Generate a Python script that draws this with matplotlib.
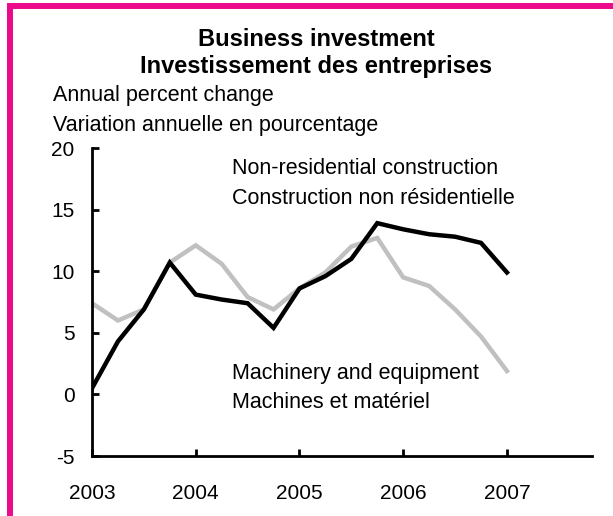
import numpy as np
import matplotlib
matplotlib.use('Agg')
import matplotlib.pyplot as plt
from matplotlib.lines import Line2D

# quarterly observations, 2003Q1 .. 2007Q1
QUARTERS = [2003.0, 2003.25, 2003.5, 2003.75,
            2004.0, 2004.25, 2004.5, 2004.75,
            2005.0, 2005.25, 2005.5, 2005.75,
            2006.0, 2006.25, 2006.5, 2006.75,
            2007.0]
NON_RESIDENTIAL = [0.5, 4.3, 6.9, 10.7,
                   8.1, 7.7, 7.4, 5.4,
                   8.6, 9.6, 11.0, 13.9,
                   13.4, 13.0, 12.8, 12.3,
                   9.9]
MACHINERY = [7.4, 6.0, 6.9, 10.7,
             12.1, 10.6, 7.9, 6.9,
             8.6, 9.9, 12.0, 12.7,
             9.5, 8.8, 6.9, 4.7,
             1.9]
X_TICKS = [2003, 2004, 2005, 2006, 2007]
Y_TICKS = [-5, 0, 5, 10, 15, 20]

TITLE = ['Business investment', 'Investissement des entreprises']
UNITS = ['Annual percent change', 'Variation annuelle en pourcentage']
NONRES_LABEL = ['Non-residential construction', 'Construction non résidentielle']
MACH_LABEL = ['Machinery and equipment', 'Machines et matériel']

PINK = '#EC0A8C'
GREY = '#C0C0C0'
FONT = 'Liberation Sans'
W, H = 613, 516

plt.rcParams['font.family'] = [FONT, 'DejaVu Sans']


def px(x, y):
    # pixel position (from top-left) -> figure fraction
    return x / W, 1 - y / H


fig = plt.figure(figsize=(W / 100, H / 100), dpi=100)
ax = fig.add_axes([92 / W, 1 - 456 / H, 500 / W, 308 / H])

ax.plot(QUARTERS, MACHINERY, color=GREY, lw=3.2, solid_joinstyle='miter', zorder=2)
ax.plot(QUARTERS, NON_RESIDENTIAL, color='black', lw=3.2, solid_joinstyle='miter', zorder=3)

ax.set_xlim(2003, 2007.82)
ax.set_ylim(-5, 20)
ax.set_xticks(X_TICKS)
ax.set_yticks(Y_TICKS)
ax.set_xticklabels([str(x) for x in X_TICKS])
ax.set_yticklabels([str(y) for y in Y_TICKS])

for side in ['top', 'right']:
    ax.spines[side].set_visible(False)
for side in ['left', 'bottom']:
    ax.spines[side].set_linewidth(2.0)
ax.tick_params(direction='in', length=5, width=2.0, labelsize=15)
ax.tick_params(axis='x', pad=20)
ax.tick_params(axis='y', pad=12.5)

# text labels, one line each
for i, line in enumerate(TITLE):
    fig.text(*px(316, 40 + 26 * i), line, fontsize=17, fontweight='bold',
             ha='center', va='center')
for i, line in enumerate(UNITS):
    fig.text(*px(53, 96 + 30 * i), line, fontsize=15.5, va='center')
for i, line in enumerate(NONRES_LABEL):
    fig.text(*px(232, 168 + 30 * i), line, fontsize=15.5, va='center')
for i, line in enumerate(MACH_LABEL):
    fig.text(*px(232, 373 + 30 * i), line, fontsize=15.5, va='center')

# pink frame on the left and top
fig.add_artist(Line2D([9.5 / W, 9.5 / W], [0, 1 - 6 / H], color=PINK, lw=4.3,
                      transform=fig.transFigure, solid_capstyle='projecting'))
fig.add_artist(Line2D([9.5 / W, 1], [1 - 6 / H, 1 - 6 / H], color=PINK, lw=4.3,
                      transform=fig.transFigure, solid_capstyle='butt'))

fig.savefig('out.png', dpi=100)
